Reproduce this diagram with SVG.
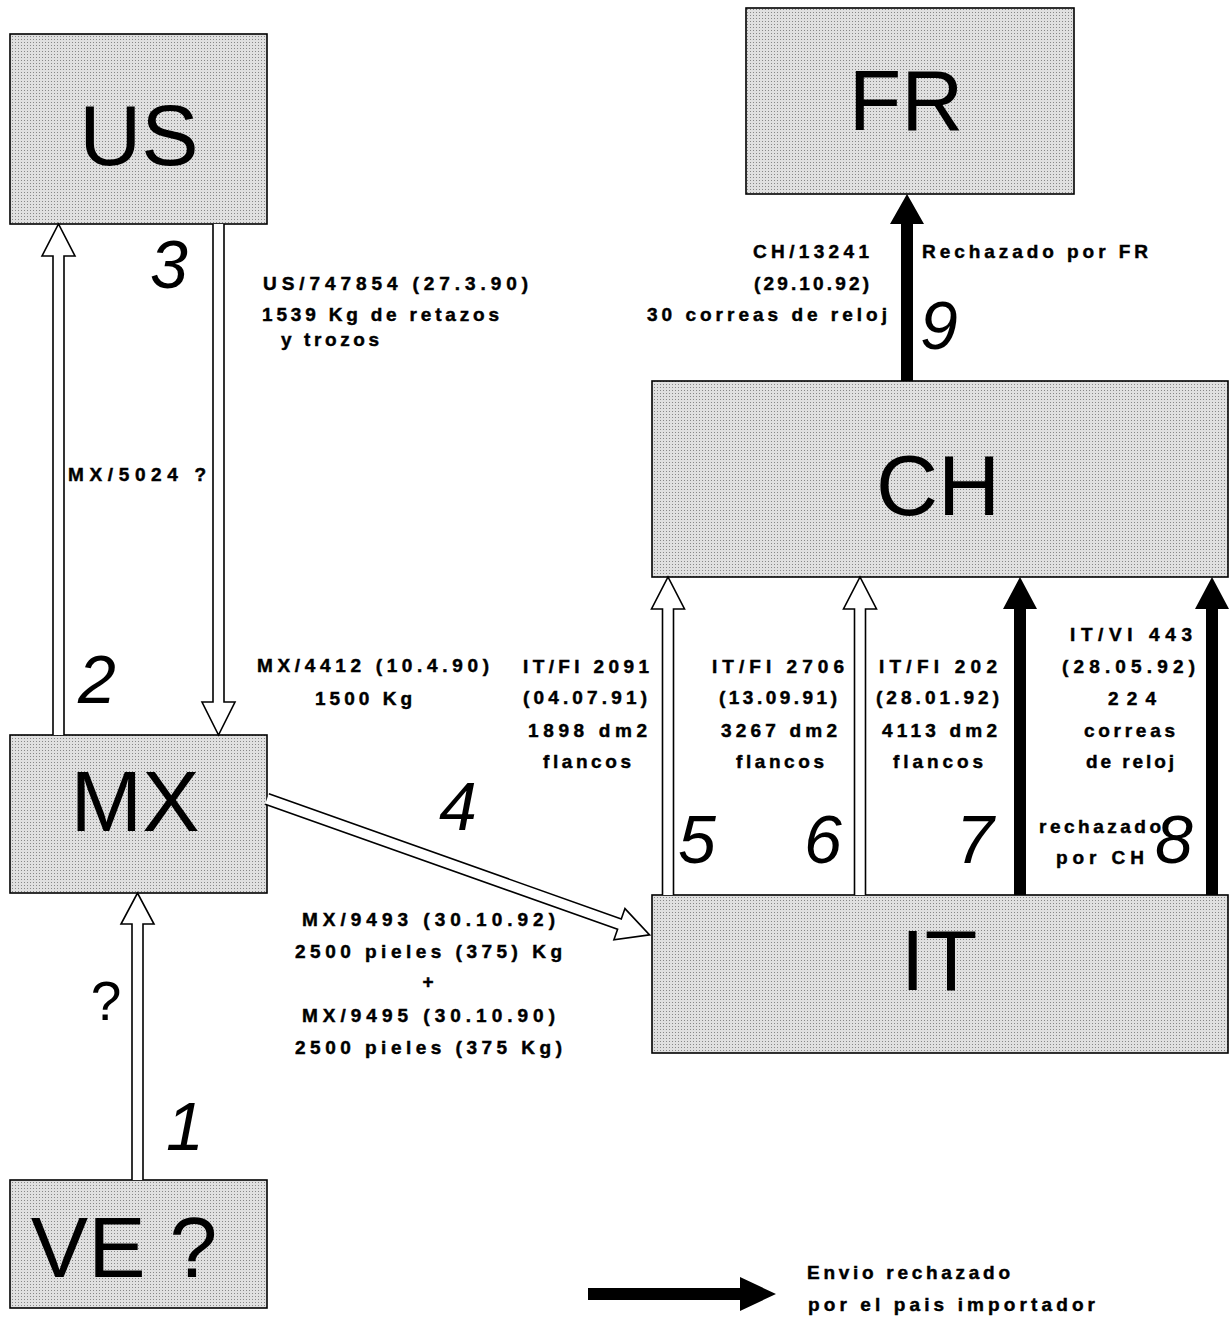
<svg xmlns="http://www.w3.org/2000/svg" width="1230" height="1318" viewBox="0 0 1230 1318">
<defs>
<pattern id="dots" width="3" height="3" patternUnits="userSpaceOnUse"><rect width="3" height="3" fill="#e0e0e0"/><rect width="1" height="1" fill="#888"/></pattern>
<style>
.box{fill:url(#dots);stroke:#000;stroke-width:1.6}
.big{font-family:"Liberation Sans",Arial,sans-serif;font-size:86px;text-anchor:middle;fill:#000}
.num{font-family:"Liberation Sans",Arial,sans-serif;font-size:68px;font-style:italic;text-anchor:middle;fill:#000}
.lbl{font-family:"Liberation Sans",Arial,sans-serif;font-size:19px;font-weight:bold;fill:#000;stroke:#000;stroke-width:0.45}
.hollow{fill:#fff;stroke:#000;stroke-width:1.6;stroke-linejoin:miter}
.solid{fill:#000;stroke:none}
</style>
</defs>
<rect width="1230" height="1318" fill="#fff"/>

<g id="node-US"><rect class="box" x="10" y="34" width="257" height="190"/><text class="big" x="139" y="165">US</text></g>
<g id="node-FR"><rect class="box" x="746" y="8" width="328" height="186"/><text class="big" x="906" y="130">FR</text></g>
<g id="node-CH"><rect class="box" x="652" y="381" width="576" height="196"/><text class="big" x="938" y="515">CH</text></g>
<g id="node-MX"><rect class="box" x="10" y="735" width="257" height="158"/><text class="big" x="135" y="831">MX</text></g>
<g id="node-IT"><rect class="box" x="652" y="895" width="576" height="158"/><text class="big" x="939" y="990">IT</text></g>
<g id="node-VE"><rect class="box" x="10" y="1180" width="257" height="128"/><text class="big" x="124" y="1277">VE ?</text></g>

<g id="connectors">
<path class="hollow" d="M53,735 L53,256 L42,256 L58.5,224 L75,256 L64,256 L64,735"/>
<path class="hollow" d="M213,224 L213,702 L202,702 L218.5,735 L235,702 L224,702 L224,224"/>
<path class="hollow" d="M132,1180 L132,924 L121,924 L137.5,893 L154,924 L143,924 L143,1180"/>
<path class="hollow" transform="translate(267,799) rotate(19.55)" d="M0,-5.5 L374,-5.5 L374,-16.5 L406,0 L374,16.5 L374,5.5 L0,5.5"/>
<path class="hollow" d="M662.5,895 L662.5,609 L651.5,609 L668,577 L684.5,609 L673.5,609 L673.5,895"/>
<path class="hollow" d="M854.5,895 L854.5,609 L843.5,609 L860,577 L876.5,609 L865.5,609 L865.5,895"/>
<path class="solid" d="M1014,895 L1014,609 L1003,609 L1020,577 L1037,609 L1026,609 L1026,895 Z"/>
<path class="solid" d="M1206,895 L1206,609 L1195,609 L1212,577 L1229,609 L1218,609 L1218,895 Z"/>
<path class="solid" d="M901,381 L901,224 L890,224 L907,194 L924,224 L913,224 L913,381 Z"/>
</g>

<g id="numbers">
<text class="num" x="169" y="288">3</text>
<text class="num" x="97" y="703">2</text>
<text class="num" x="458" y="830">4</text>
<text class="num" x="185" y="1150">1</text>
<text class="num" x="697" y="863">5</text>
<text class="num" x="823" y="863">6</text>
<text class="num" x="975" y="863">7</text>
<text class="num" x="1174" y="863">8</text>
<text class="num" x="939" y="349">9</text>
<text x="106" y="1020" style="font-family:'Liberation Sans',Arial,sans-serif;font-size:55px;text-anchor:middle">?</text>
</g>

<g id="labels">
<text class="lbl" x="263" y="290" textLength="265" lengthAdjust="spacing">US/747854 (27.3.90)</text>
<text class="lbl" x="262" y="321" textLength="237" lengthAdjust="spacing">1539 Kg de retazos</text>
<text class="lbl" x="281" y="346" textLength="98" lengthAdjust="spacing">y trozos</text>
<text class="lbl" x="68" y="481" textLength="138" lengthAdjust="spacing">MX/5024 ?</text>
<text class="lbl" x="257" y="672" textLength="232" lengthAdjust="spacing">MX/4412 (10.4.90)</text>
<text class="lbl" x="315" y="705" textLength="97" lengthAdjust="spacing">1500 Kg</text>

<text class="lbl" x="302" y="926" textLength="253" lengthAdjust="spacing">MX/9493 (30.10.92)</text>
<text class="lbl" x="295" y="958" textLength="267" lengthAdjust="spacing">2500 pieles (375) Kg</text>
<text class="lbl" x="428" y="988" text-anchor="middle">+</text>
<text class="lbl" x="302" y="1022" textLength="253" lengthAdjust="spacing">MX/9495 (30.10.90)</text>
<text class="lbl" x="295" y="1054" textLength="267" lengthAdjust="spacing">2500 pieles (375 Kg)</text>

<text class="lbl" x="523" y="673" textLength="126" lengthAdjust="spacing">IT/FI 2091</text>
<text class="lbl" x="523" y="704" textLength="124" lengthAdjust="spacing">(04.07.91)</text>
<text class="lbl" x="528" y="737" textLength="119" lengthAdjust="spacing">1898 dm2</text>
<text class="lbl" x="543" y="768" textLength="88" lengthAdjust="spacing">flancos</text>

<text class="lbl" x="712" y="673" textLength="132" lengthAdjust="spacing">IT/FI 2706</text>
<text class="lbl" x="719" y="704" textLength="118" lengthAdjust="spacing">(13.09.91)</text>
<text class="lbl" x="721" y="737" textLength="116" lengthAdjust="spacing">3267 dm2</text>
<text class="lbl" x="736" y="768" textLength="88" lengthAdjust="spacing">flancos</text>

<text class="lbl" x="879" y="673" textLength="118" lengthAdjust="spacing">IT/FI 202</text>
<text class="lbl" x="876" y="704" textLength="123" lengthAdjust="spacing">(28.01.92)</text>
<text class="lbl" x="882" y="737" textLength="115" lengthAdjust="spacing">4113 dm2</text>
<text class="lbl" x="893" y="768" textLength="90" lengthAdjust="spacing">flancos</text>

<text class="lbl" x="1070" y="641" textLength="122" lengthAdjust="spacing">IT/VI 443</text>
<text class="lbl" x="1062" y="673" textLength="133" lengthAdjust="spacing">(28.05.92)</text>
<text class="lbl" x="1108" y="705" textLength="48" lengthAdjust="spacing">224</text>
<text class="lbl" x="1084" y="737" textLength="91" lengthAdjust="spacing">correas</text>
<text class="lbl" x="1086" y="768" textLength="88" lengthAdjust="spacing">de reloj</text>

<text class="lbl" x="1039" y="833" textLength="122" lengthAdjust="spacing">rechazado</text>
<text class="lbl" x="1056" y="864" textLength="88" lengthAdjust="spacing">por CH</text>

<text class="lbl" x="753" y="258" textLength="116" lengthAdjust="spacing">CH/13241</text>
<text class="lbl" x="754" y="290" textLength="115" lengthAdjust="spacing">(29.10.92)</text>
<text class="lbl" x="647" y="321" textLength="240" lengthAdjust="spacing">30 correas de reloj</text>
<text class="lbl" x="922" y="258" textLength="226" lengthAdjust="spacing">Rechazado por FR</text>
</g>

<g id="legend">
<path class="solid" d="M588,1288 L740,1288 L740,1277 L776,1294 L740,1311 L740,1300 L588,1300 Z"/>
<text class="lbl" x="807" y="1279" textLength="203" lengthAdjust="spacing">Envio rechazado</text>
<text class="lbl" x="808" y="1311" textLength="287" lengthAdjust="spacing">por el pais importador</text>
</g>
</svg>
